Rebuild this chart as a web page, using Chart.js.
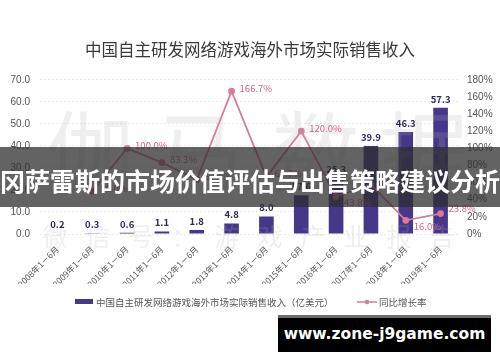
<!DOCTYPE html>
<html><head><meta charset="utf-8">
<script src="https://cdn.jsdelivr.net/npm/chart.js@4/dist/chart.umd.min.js"></script>
<style>
html,body{margin:0;padding:0;background:#fff;}
#wrap{position:relative;width:500px;height:362px;overflow:hidden;background:#fff;}
canvas{position:absolute;left:0;top:0;}
#banner{position:absolute;left:0;top:147px;width:500px;height:60px;background:rgba(45,45,45,0.74);color:#fff;font:bold 25px "Noto Sans CJK SC";line-height:66px;text-align:center;white-space:nowrap;}
#site{position:absolute;left:278px;top:315px;width:213px;height:37px;background:#000;border-top:3px solid #6b6b6b;box-sizing:border-box;color:#fff;font:bold 15.5px "DejaVu Sans";text-align:center;line-height:33px;white-space:nowrap;}
</style></head>
<body>
<div id="wrap">
<canvas id="c" width="500" height="362"></canvas>
<div id="banner">冈萨雷斯的市场价值评估与出售策略建议分析</div>
<div id="site">www.zone-j9game.com</div>
</div>
<script>
const titleText = '中国自主研发网络游戏海外市场实际销售收入';
const categories = ['2008年1－6月','2009年1－6月','2010年1－6月','2011年1－6月','2012年1－6月','2013年1－6月','2014年1－6月','2015年1－6月','2016年1－6月','2017年1－6月','2018年1－6月','2019年1－6月'];
const revenue = [0.2, 0.3, 0.6, 1.1, 1.8, 4.8, 8.0, 17.6, 25.3, 39.9, 46.3, 57.3];
const growth = [null, 50.0, 100.0, 83.3, 63.6, 166.7, 66.7, 120.0, 43.8, 57.7, 16.0, 23.8];
const revenueLabel = '中国自主研发网络游戏海外市场实际销售收入（亿美元）';
const growthLabel = '同比增长率';
const leftMax = 70, leftStep = 10;
const rightMax = 180, rightStep = 20;
const watermarkBig = '伽马数据';
const watermarkSmall = '微信号：游戏产业报告';

const BAR = '#46378a';
const LINE = '#d97a9b';
const CJK = '"Noto Sans CJK SC", sans-serif';

const labelsPlugin = {
  id: 'labels',
  afterDatasetsDraw(chart) {
    const ctx = chart.ctx;
    ctx.save();
    const ca = chart.chartArea;
    ctx.fillStyle = 'rgba(175,175,175,0.2)';
    ctx.font = '88px ' + CJK;
    ctx.textAlign = 'center'; ctx.textBaseline = 'middle';
    const bigXs = [0.12, 0.38, 0.66, 0.92];
    [...watermarkBig].forEach((ch, i) => {
      ctx.fillText(ch, ca.left + (ca.right - ca.left) * bigXs[i], 152);
    });
    ctx.font = '25px ' + CJK;
    [...watermarkSmall].forEach((ch, i) => {
      ctx.fillText(ch, 55 + i * 43, 236);
    });
    const m0 = chart.getDatasetMeta(0);
    ctx.fillStyle = '#2f2b5c';
    ctx.font = 'bold 9.5px ' + CJK;
    ctx.textAlign = 'center'; ctx.textBaseline = 'bottom';
    m0.data.forEach((el, i) => {
      ctx.fillText(revenue[i].toFixed(1), el.x, el.y - 4);
    });
    const m1 = chart.getDatasetMeta(1);
    ctx.fillStyle = '#d0628a';
    ctx.font = '9.5px ' + CJK;
    ctx.textAlign = 'left'; ctx.textBaseline = 'middle';
    m1.data.forEach((el, i) => {
      if (growth[i] == null) return;
      let dy = -3;
      if (i > 0 && growth[i - 1] != null && growth[i] < growth[i - 1] && i >= 8) dy = 6;
      if (i === 11) dy = -5;
      ctx.fillText(growth[i].toFixed(1) + '%', el.x + 8, el.y + dy);
    });
    ctx.restore();
  },
  afterDraw(chart) {
    const ctx = chart.ctx;
    ctx.save();
    const y = 302;
    ctx.fillStyle = BAR;
    ctx.fillRect(75, y - 3, 18, 5);
    ctx.fillStyle = '#555';
    ctx.font = '9.5px ' + CJK;
    ctx.textAlign = 'left'; ctx.textBaseline = 'middle';
    ctx.fillText(revenueLabel, 96, y);
    ctx.strokeStyle = LINE; ctx.lineWidth = 1.5;
    ctx.beginPath(); ctx.moveTo(357, y); ctx.lineTo(377, y); ctx.stroke();
    ctx.fillStyle = LINE;
    ctx.beginPath(); ctx.arc(367, y, 2.3, 0, Math.PI * 2); ctx.fill();
    ctx.fillStyle = '#555';
    ctx.fillText(growthLabel, 379, y);
    ctx.restore();
  }
};

new Chart(document.getElementById('c'), {
  data: {
    labels: categories,
    datasets: [
      { type: 'bar', label: revenueLabel, data: revenue, backgroundColor: BAR,
        yAxisID: 'y', barPercentage: 0.42, categoryPercentage: 1, order: 2 },
      { type: 'line', label: growthLabel, data: growth, borderColor: LINE, backgroundColor: LINE,
        borderWidth: 1.8, pointRadius: 2.5, pointHoverRadius: 2.5, tension: 0,
        yAxisID: 'y1', order: 1 }
    ]
  },
  options: {
    responsive: false, animation: false, devicePixelRatio: 1,
    layout: { padding: { top: 0, left: 0, right: 0, bottom: 78 } },
    plugins: {
      legend: { display: false },
      tooltip: { enabled: false },
      title: { display: true, text: titleText, color: '#3a3a3a',
        font: { family: CJK, size: 16.5, weight: 'normal' }, padding: { top: 40, bottom: 20 } }
    },
    scales: {
      x: {
        grid: { display: false }, border: { display: false },
        ticks: { color: '#555', font: { family: CJK, size: 8.5 }, minRotation: 45, maxRotation: 45, autoSkip: false, padding: 2 },
        afterFit(s) { s.height = 50; }
      },
      y: {
        position: 'left', min: 0, max: leftMax,
        grid: { color: '#ececec', drawTicks: false }, border: { display: false, dash: [2, 2] },
        ticks: { stepSize: leftStep, color: '#555', font: { family: 'Liberation Sans, Arial', size: 10 }, padding: 10,
          callback: v => v.toFixed(1) },
        afterFit(s) { s.width = 40; }
      },
      y1: {
        position: 'right', min: 0, max: rightMax,
        grid: { display: false, drawTicks: false }, border: { display: false },
        ticks: { stepSize: rightStep, color: '#555', font: { family: 'Liberation Sans, Arial', size: 10 }, padding: 9,
          callback: v => v + '%' },
        afterFit(s) { s.width = 42; }
      }
    }
  },
  plugins: [labelsPlugin]
});
</script>
</body></html>
